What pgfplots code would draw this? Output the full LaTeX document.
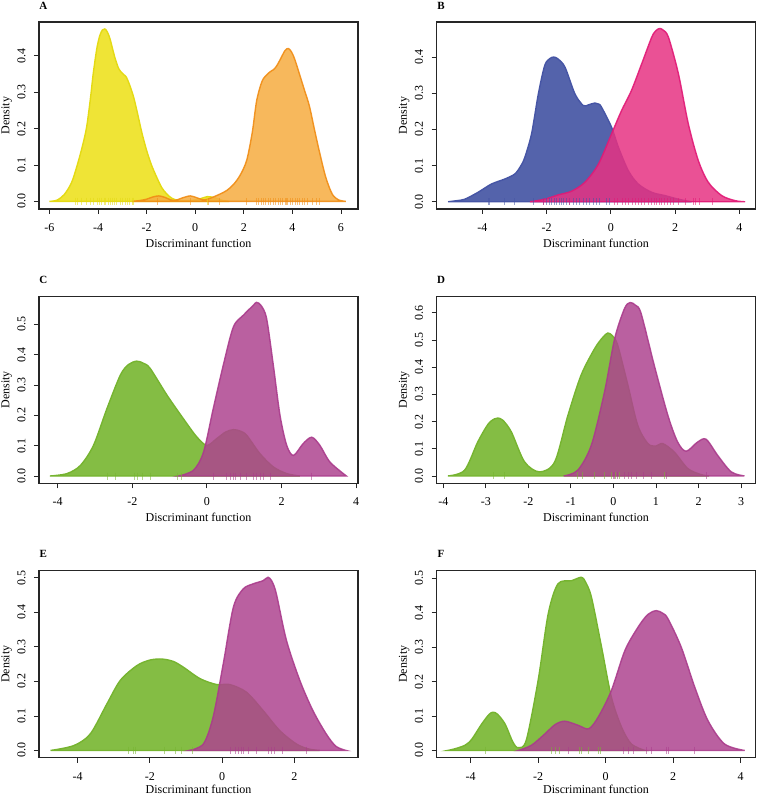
\documentclass[border=0pt]{standalone}
\usepackage{fontspec}
\setmainfont{Liberation Serif}
\usepackage{pgfplots}
\pgfplotsset{compat=1.18}

\definecolor{yelF}{RGB}{239,228,54}
\definecolor{yelL}{RGB}{228,218,20}
\definecolor{oraF}{RGB}{246,172,64}
\definecolor{oraL}{RGB}{240,140,20}
\definecolor{bluF}{RGB}{84,99,171}
\definecolor{bluL}{RGB}{70,85,165}
\definecolor{magF}{RGB}{230,50,130}
\definecolor{magL}{RGB}{225,25,118}
\definecolor{grnF}{RGB}{132,189,68}
\definecolor{grnL}{RGB}{118,180,48}
\definecolor{purF}{RGB}{174,68,143}
\definecolor{purL}{RGB}{170,60,140}

\pgfplotsset{
  dens/.style={
    scale only axis, width=319pt, height=187pt, anchor=south west,
    axis line style={line width=1.2pt, black!85},
    tick style={line width=0.9pt, black!85},
    tick align=outside, major tick length=5pt,
    xtick pos=lower, ytick pos=lower,
    font=\fontsize{12}{14}\selectfont,
    scaled y ticks=false,
    /pgf/number format/assume math mode=true,
    yticklabel style={xshift=-12.5pt, rotate=90, anchor=center,
      /pgf/number format/fixed, /pgf/number format/precision=1,
      /pgf/number format/fixed zerofill},
    xticklabel style={anchor=center, yshift=-13.5pt},
    xlabel={Discriminant function}, ylabel={Density},
    every axis x label/.style={at={(axis description cs:0.5,0)}, anchor=center, yshift=-34pt, inner sep=0pt},
    every axis y label/.style={at={(axis description cs:0,0.5)}, xshift=-32.3pt, rotate=90, anchor=center, inner sep=0pt},
  },
  lowrow/.style={every axis x label/.append style={yshift=2.5pt}},
  c1/.style={fill=#1F, draw=#1L, line width=1.4pt, smooth, tension=0.5},
  c2/.style={fill=#1F, fill opacity=0.85, draw=#1L, draw opacity=0.9, line width=1.4pt, smooth, tension=0.5},
  rug/.style={only marks, mark=|, mark size=3.5pt, mark options={draw=#1L, line width=0.5pt, opacity=0.55}},
}

\begin{document}
\begin{tikzpicture}[x=1pt,y=1pt]
\path[use as bounding box] (0,0) rectangle (758,796);

% ---------- A ----------
\node[font=\bfseries\fontsize{11}{13}\selectfont] at (43.3,790) {A};
\begin{axis}[dens, at={(39pt,587pt)},
  xmin=-6.43, xmax=6.70, ymin=-0.021, ymax=0.493,
  xtick={-6,-4,...,6}, ytick={0,0.1,...,0.4}]
\addplot[c1=yel] coordinates {(-6.0,0)(-5.7,0.003)(-5.4,0.018)(-5.1,0.05)(-4.88,0.094)(-4.65,0.15)(-4.47,0.204)(-4.3,0.29)(-4.2,0.35)(-4.05,0.42)(-3.93,0.455)(-3.82,0.471)(-3.72,0.474)(-3.62,0.466)(-3.5,0.445)(-3.31,0.396)(-3.15,0.365)(-3.0,0.352)(-2.85,0.343)(-2.7,0.32)(-2.55,0.29)(-2.42,0.255)(-2.2,0.19)(-2.0,0.14)(-1.8,0.10)(-1.59,0.067)(-1.38,0.038)(-1.18,0.021)(-0.95,0.008)(-0.7,0.003)(-0.4,0.002)(-0.1,0.003)(0.2,0.007)(0.5,0.013)(0.8,0.01)(1.1,0.003)(1.4,0)} \closedcycle;
\addplot[c2=ora] coordinates {(-2.6,0)(-2.3,0.002)(-2.0,0.006)(-1.75,0.012)(-1.5,0.015)(-1.25,0.011)(-1.0,0.004)(-0.8,0.003)(-0.55,0.009)(-0.2,0.015)(0.1,0.009)(0.35,0.004)(0.6,0.008)(0.85,0.015)(1.05,0.021)(1.3,0.03)(1.57,0.046)(1.85,0.072)(2.12,0.113)(2.35,0.19)(2.53,0.277)(2.75,0.33)(2.95,0.348)(3.1,0.357)(3.22,0.362)(3.35,0.372)(3.5,0.39)(3.7,0.415)(3.84,0.42)(3.97,0.41)(4.1,0.39)(4.29,0.35)(4.5,0.305)(4.7,0.262)(4.9,0.2)(5.1,0.14)(5.37,0.067)(5.64,0.02)(5.9,0.004)(6.2,0)} \closedcycle;
\addplot[rug=yel] coordinates {(-4.95,0)(-4.85,0)(-4.7,0)(-4.5,0)(-4.3,0)(-4.2,0)(-4.05,0)(-3.95,0)(-3.85,0)(-3.75,0)(-3.7,0)(-3.6,0)(-3.5,0)(-3.4,0)(-3.35,0)(-3.25,0)(-3.1,0)(-3.0,0)(-2.9,0)(-2.8,0)(-2.7,0)(-2.6,0)(-2.55,0)(0.5,0)};
\addplot[rug=ora] coordinates {(-1.55,0)(-0.2,0)(0.55,0)(1.0,0)(2.1,0)(2.5,0)(2.6,0)(2.7,0)(2.8,0)(2.9,0)(3.0,0)(3.1,0)(3.2,0)(3.3,0)(3.4,0)(3.5,0)(3.6,0)(3.7,0)(3.75,0)(3.8,0)(3.9,0)(4.0,0)(4.1,0)(4.2,0)(4.3,0)(4.4,0)(4.5,0)(4.6,0)(4.8,0)(5.0,0)(5.1,0)};
\end{axis}

% ---------- B ----------
\node[font=\bfseries\fontsize{11}{13}\selectfont] at (441,790) {B};
\begin{axis}[dens, at={(436.5pt,587pt)},
  xmin=-5.43, xmax=4.50, ymin=-0.020, ymax=0.497,
  xtick={-4,-2,...,4}, ytick={0,0.1,...,0.4}]
\addplot[c1=blu] coordinates {(-5.07,0)(-4.8,0.003)(-4.55,0.007)(-4.14,0.026)(-3.72,0.049)(-3.3,0.063)(-2.99,0.077)(-2.8,0.1)(-2.68,0.123)(-2.47,0.188)(-2.26,0.298)(-2.06,0.377)(-1.9,0.396)(-1.78,0.40)(-1.65,0.395)(-1.43,0.372)(-1.12,0.298)(-0.86,0.266)(-0.7,0.268)(-0.5,0.273)(-0.38,0.27)(-0.29,0.261)(0.02,0.206)(0.23,0.151)(0.54,0.086)(0.85,0.049)(1.27,0.026)(1.68,0.017)(2.1,0.007)(2.51,0)} \closedcycle;
\addplot[c2=mag] coordinates {(-2.52,0)(-2.06,0.007)(-1.64,0.019)(-1.23,0.029)(-0.81,0.054)(-0.39,0.104)(0.02,0.188)(0.33,0.252)(0.64,0.308)(0.96,0.382)(1.27,0.455)(1.4,0.473)(1.51,0.479)(1.62,0.475)(1.79,0.455)(2.1,0.354)(2.41,0.215)(2.72,0.114)(3.03,0.054)(3.45,0.017)(3.87,0.003)(4.18,0)} \closedcycle;
\addplot[rug=blu] coordinates {(-3.83,0)(-3.78,0)(-3.31,0)(-3.0,0)(-2.43,0)(-2.12,0)(-2.01,0)(-1.93,0)(-1.86,0)(-1.78,0)(-1.70,0)(-1.62,0)(-1.55,0)(-1.47,0)(-1.39,0)(-1.3,0)(-1.18,0)(-1.08,0)(-0.98,0)(-0.87,0)(-0.77,0)(-0.66,0)(-0.56,0)(-0.45,0)(-0.35,0)(-0.14,0)(-0.04,0)};
\addplot[rug=mag] coordinates {(-2.1,0)(-1.3,0)(0.11,0)(0.2,0)(0.35,0)(0.45,0)(0.55,0)(0.65,0)(0.75,0)(0.85,0)(0.95,0)(1.05,0)(1.15,0)(1.25,0)(1.35,0)(1.42,0)(1.5,0)(1.58,0)(1.65,0)(1.75,0)(1.85,0)(1.95,0)(2.1,0)(2.3,0)(2.55,0)(2.62,0)(2.75,0)(3.15,0)};
\end{axis}

% ---------- C ----------
\node[font=\bfseries\fontsize{11}{13}\selectfont] at (43.3,516) {C};
\begin{axis}[dens, at={(39pt,312.7pt)},
  xmin=-4.50, xmax=4.05, ymin=-0.024, ymax=0.593,
  xtick={-4,-2,...,4}, ytick={0,0.1,...,0.5}]
\addplot[c1=grn] coordinates {(-4.21,0)(-3.75,0.008)(-3.39,0.035)(-3.04,0.101)(-2.68,0.222)(-2.32,0.333)(-2.1,0.368)(-1.88,0.379)(-1.7,0.372)(-1.52,0.355)(-1.07,0.267)(-0.63,0.189)(-0.27,0.129)(0.0,0.101)(0.26,0.123)(0.5,0.145)(0.71,0.153)(0.9,0.148)(1.07,0.134)(1.42,0.074)(1.78,0.030)(2.14,0.008)(2.49,0)} \closedcycle;
\addplot[c2=pur] coordinates {(-0.76,0)(-0.36,0.019)(-0.09,0.079)(0.17,0.222)(0.44,0.366)(0.71,0.492)(0.98,0.531)(1.25,0.564)(1.33,0.573)(1.45,0.563)(1.6,0.52)(1.78,0.366)(1.96,0.2)(2.14,0.101)(2.32,0.068)(2.58,0.107)(2.81,0.128)(3.03,0.101)(3.3,0.046)(3.74,0)} \closedcycle;
\addplot[rug=grn] coordinates {(-2.67,0)(-2.45,0)(-1.94,0)(-1.88,0)(-1.74,0)(-1.51,0)(-0.8,0)(-0.7,0)};
\addplot[rug=pur] coordinates {(0.17,0)(0.52,0)(0.62,0)(0.71,0)(0.75,0)(0.89,0)(1.06,0)(1.24,0)(1.33,0)(1.42,0)(1.51,0)(1.69,0)(2.80,0)};
\end{axis}

% ---------- D ----------
\node[font=\bfseries\fontsize{11}{13}\selectfont] at (441,516) {D};
\begin{axis}[dens, at={(436.5pt,312.7pt)},
  xmin=-4.16, xmax=3.34, ymin=-0.027, ymax=0.661,
  xtick={-4,-3,...,3}, ytick={0,0.1,...,0.6}]
\addplot[c1=grn] coordinates {(-3.89,0)(-3.5,0.021)(-3.19,0.125)(-2.95,0.19)(-2.8,0.21)(-2.72,0.213)(-2.6,0.205)(-2.4,0.162)(-2.09,0.052)(-1.74,0.015)(-1.38,0.052)(-1.07,0.223)(-0.76,0.371)(-0.44,0.469)(-0.25,0.51)(-0.13,0.526)(-0.02,0.515)(0.10,0.481)(0.34,0.334)(0.57,0.187)(0.81,0.119)(1.0,0.11)(1.16,0.119)(1.43,0.088)(1.75,0.027)(2.06,0.005)(2.25,0)} \closedcycle;
\addplot[c2=pur] coordinates {(-1.17,0)(-0.84,0.021)(-0.52,0.113)(-0.21,0.309)(0.03,0.506)(0.26,0.616)(0.39,0.638)(0.52,0.628)(0.65,0.598)(0.96,0.407)(1.28,0.223)(1.51,0.125)(1.71,0.091)(1.98,0.125)(2.18,0.135)(2.45,0.076)(2.77,0.015)(3.08,0)} \closedcycle;
\addplot[rug=grn] coordinates {(-2.83,0)(-2.56,0)(-0.84,0)(-0.74,0)(-0.44,0)(-0.21,0)(-0.05,0)(0.04,0)(0.14,0)(1.20,0)};
\addplot[rug=pur] coordinates {(-0.01,0)(0.02,0)(0.10,0)(0.26,0)(0.34,0)(0.41,0)(0.53,0)(0.69,0)(0.89,0)(1.24,0)(2.18,0)};
\end{axis}

% ---------- E ----------
\node[font=\bfseries\fontsize{11}{13}\selectfont] at (43.3,241.7) {E};
\begin{axis}[dens, lowrow, at={(39pt,38.3pt)},
  xmin=-5.07, xmax=3.76, ymin=-0.021, ymax=0.521,
  xtick={-4,-2,...,2}, ytick={0,0.1,...,0.5}]
\addplot[c1=grn] coordinates {(-4.75,0)(-4.11,0.014)(-3.65,0.048)(-3.19,0.135)(-2.82,0.203)(-2.36,0.246)(-2.0,0.262)(-1.67,0.265)(-1.35,0.258)(-1.07,0.241)(-0.61,0.208)(-0.15,0.191)(0.21,0.191)(0.67,0.169)(1.13,0.116)(1.59,0.058)(2.05,0.019)(2.4,0.004)(2.7,0)} \closedcycle;
\addplot[c2=pur] coordinates {(-0.91,0)(-0.52,0.019)(-0.25,0.097)(0.03,0.251)(0.31,0.415)(0.58,0.468)(0.86,0.483)(1.13,0.492)(1.27,0.502)(1.38,0.49)(1.5,0.454)(1.78,0.319)(2.15,0.203)(2.51,0.116)(2.88,0.048)(3.15,0.012)(3.43,0)} \closedcycle;
\addplot[rug=grn] coordinates {(-2.61,0)(-2.45,0)(-2.41,0)(-1.60,0)(-1.30,0)(-1.12,0)(-0.84,0)};
\addplot[rug=pur] coordinates {(0.21,0)(0.35,0)(0.44,0)(0.54,0)(0.58,0)(0.72,0)(0.95,0)(1.27,0)(1.36,0)(1.43,0)(1.67,0)(2.33,0)};
\end{axis}

% ---------- F ----------
\node[font=\bfseries\fontsize{11}{13}\selectfont] at (441,241.7) {F};
\begin{axis}[dens, lowrow, at={(436.5pt,38.3pt)},
  xmin=-5.01, xmax=4.44, ymin=-0.021, ymax=0.522,
  xtick={-4,-2,...,4}, ytick={0,0.1,...,0.5}]
\addplot[c1=grn] coordinates {(-4.68,0)(-4.46,0.005)(-4.17,0.015)(-3.97,0.032)(-3.67,0.077)(-3.45,0.105)(-3.33,0.111)(-3.2,0.105)(-2.98,0.077)(-2.75,0.025)(-2.59,0.008)(-2.35,0.03)(-2.0,0.203)(-1.7,0.397)(-1.41,0.484)(-1.01,0.493)(-0.72,0.503)(-0.6,0.49)(-0.42,0.445)(-0.12,0.3)(0.17,0.155)(0.47,0.068)(0.76,0.019)(1.16,0)} \closedcycle;
\addplot[c2=pur] coordinates {(-2.59,0)(-2.2,0.015)(-1.8,0.048)(-1.5,0.075)(-1.21,0.085)(-0.81,0.073)(-0.5,0.063)(-0.22,0.097)(0.17,0.174)(0.57,0.29)(0.96,0.358)(1.25,0.395)(1.5,0.406)(1.7,0.398)(1.85,0.382)(2.24,0.3)(2.64,0.184)(3.03,0.087)(3.52,0.019)(4.12,0)} \closedcycle;
\addplot[rug=grn] coordinates {(-3.56,0)(-1.60,0)(-1.50,0)(-1.36,0)(-0.77,0)(-0.72,0)(-0.52,0)(-0.22,0)(-0.17,0)};
\addplot[rug=pur] coordinates {(-1.11,0)(0.52,0)(0.66,0)(0.81,0)(1.21,0)(1.36,0)(1.80,0)(1.85,0)(2.62,0)};
\end{axis}
\end{tikzpicture}
\end{document}
